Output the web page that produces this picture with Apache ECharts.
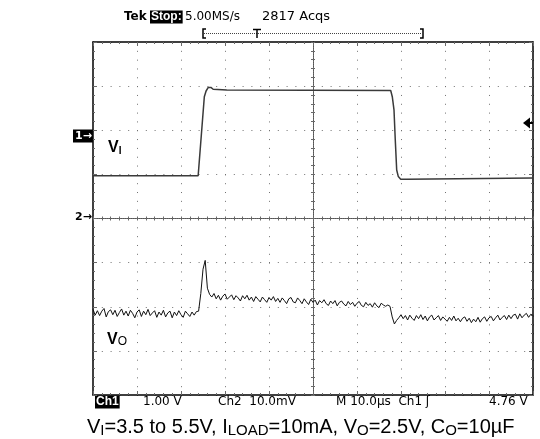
<!DOCTYPE html>
<html><head><meta charset="utf-8">
<script src="https://cdn.jsdelivr.net/npm/echarts@6/dist/echarts.min.js"></script>
<style>html,body{margin:0;padding:0;background:#fff}#c{width:540px;height:439px}</style>
</head><body><div id="c"></div>
<script>
// ---- time axis: 10 µs/div, 10 divisions (centre = 0)
const timeMinUs = -50, timeMaxUs = 50, timeDivUs = 10;
// ---- Ch2 (V_O, AC) : 10 mV/div, 8 divisions around the Ch2 marker
const voMinMv = -40, voMaxMv = 40, voDivMv = 10;
// ---- Ch1 (V_I) : 1 V/div
const viMinV = -1.5, viMaxV = 6.5;

// V_I trace (time µs, volts)
const viTimesUs = [-50, -26.1, -24.7, -24.3, -23.8, -23.2, -22.7, -19.6, 17.66, 18.02, 18.41, 18.7, 19.02, 19.39, 19.93, 21.3, 21.66, 50];
const viVolts   = [3.47, 3.47, 5.26, 5.39, 5.47, 5.47, 5.43, 5.41, 5.40, 5.26, 4.96, 4.28, 3.60, 3.45, 3.39, 3.39, 3.42, 3.42];

// V_O trace (mV, sampled every 0.5 µs from -50 µs)
const voStartUs = -50, voStepUs = 0.5;
const voBefore = [-20.6,-21.9,-20.9,-22.0,-21.0,-20.4,-22.3,-21.1,-20.7,-21.8,
  -20.8,-22.2,-21.3,-20.5,-21.9,-21.0,-22.1,-20.8,-21.5,-22.5,
  -21.2,-20.7,-22.2,-21.0,-21.8,-20.6,-22.0,-21.4,-20.9,-22.4,
  -21.2,-21.9,-20.8,-22.3,-21.4,-21.0,-22.5,-21.2,-22.0,-20.9,
  -21.8,-22.4,-21.0,-21.6,-22.2,-21.2,-21.9,-21.1];
const voSpike = [-21.0,-17.0,-11.5,-9.5,-15.8,-17.2];
const voHigh = [-17.8,-17.0,-18.2,-17.4,-18.5,-17.6,-17.1,-18.3,-17.8,-17.3,
  -18.4,-17.5,-18.0,-18.7,-17.5,-18.2,-17.4,-18.5,-17.8,-18.8,
  -17.7,-18.3,-18.9,-17.8,-18.4,-19.0,-17.9,-18.5,-17.7,-18.8,
  -18.1,-19.0,-18.0,-18.6,-19.3,-18.2,-17.9,-18.9,-19.1,-18.0,
  -18.6,-19.3,-18.2,-18.9,-19.5,-18.3,-19.0,-18.5,-19.6,-18.6,
  -19.1,-18.4,-19.3,-19.7,-18.7,-19.3,-18.6,-19.8,-19.0,-18.7,
  -19.4,-19.8,-18.8,-19.5,-19.0,-19.9,-19.2,-18.8,-19.7,-20.0,
  -19.0,-19.7,-19.3,-20.1,-19.1,-19.8,-20.2,-19.2,-19.6,-19.9,
  -19.6];
const voDip = [-19.9,-22.3,-23.9,-23.1,-22.5];
const voAfter = [-21.8,-22.7,-22.0,-23.0,-21.9,-22.6,-23.1,-22.0,-22.7,-21.8,
  -22.9,-22.1,-23.2,-22.3,-21.9,-23.0,-22.5,-22.0,-23.1,-22.3,
  -22.8,-23.3,-22.4,-23.1,-22.1,-23.2,-22.6,-23.4,-22.6,-22.3,
  -23.3,-22.6,-23.6,-22.8,-23.4,-22.4,-23.5,-22.7,-22.3,-23.3,
  -22.5,-22.2,-23.2,-22.5,-21.9,-23.0,-22.4,-22.0,-22.9,-21.9,
  -22.7,-21.9,-21.7,-22.8,-21.6,-22.5,-21.9,-21.5,-22.4,-21.7,
  -22.0];

const viData = viTimesUs.map((t, i) => [t, viVolts[i]]);
const voValues = [].concat(voBefore, voSpike, voHigh, voDip, voAfter);
const voData = voValues.map((v, i) => [voStartUs + i * voStepUs, v]);

const tickGray = '#6a6a6a';
const dotGray = '#707070';
const tekFont = 'DejaVu Sans';

function xAx(position, extra) {
  return Object.assign({
    type: 'value', min: timeMinUs, max: timeMaxUs, interval: timeDivUs, position: position,
    axisLabel: { show: false },
    splitLine: { show: false },
    axisLine: { show: true, onZero: false, lineStyle: { color: '#000', width: 1.5 } },
    axisTick: { show: true, inside: true, length: 4, lineStyle: { color: tickGray } },
    minorTick: { show: true, splitNumber: 5, length: 2, lineStyle: { color: tickGray } }
  }, extra || {});
}
function yAx(position, extra) {
  return Object.assign({
    type: 'value', min: voMinMv, max: voMaxMv, interval: voDivMv, position: position,
    axisLabel: { show: false },
    splitLine: { show: false },
    axisLine: { show: true, onZero: false, lineStyle: { color: '#000', width: 1.5 } },
    axisTick: { show: true, inside: true, length: 4, lineStyle: { color: tickGray } },
    minorTick: { show: true, splitNumber: 5, length: 2, lineStyle: { color: tickGray } }
  }, extra || {});
}
const centreLine = { show: true, onZero: true, onZeroAxisIndex: 0, lineStyle: { color: '#555', width: 1, type: [1, 1] } };

const chart = echarts.init(document.getElementById('c'), null, { renderer: 'canvas' });
chart.setOption({
  animation: false,
  backgroundColor: '#fff',
  grid: { left: 93, top: 42, width: 440, height: 353, containLabel: false },
  xAxis: [
    xAx('bottom', { splitLine: { show: true, lineStyle: { color: dotGray, width: 1, type: [1, 7.825] } } }),
    xAx('top'),
    xAx('bottom', { axisLine: centreLine, axisTick: { show: true, inside: true, length: 2, lineStyle: { color: tickGray } }, minorTick: { show: true, splitNumber: 5, length: 2, lineStyle: { color: tickGray } } }),
    xAx('bottom', { axisLine: centreLine, axisTick: { show: true, inside: false, length: 2, lineStyle: { color: tickGray } }, minorTick: { show: true, splitNumber: 5, length: 2, lineStyle: { color: tickGray } } })
  ],
  yAxis: [
    yAx('left', { splitLine: { show: true, lineStyle: { color: dotGray, width: 1, type: [1, 7.8] } } }),
    yAx('right'),
    yAx('left', { axisLine: centreLine, axisTick: { show: true, inside: true, length: 2, lineStyle: { color: tickGray } }, minorTick: { show: true, splitNumber: 5, length: 2, lineStyle: { color: tickGray } } }),
    yAx('left', { axisLine: centreLine, axisTick: { show: true, inside: false, length: 2, lineStyle: { color: tickGray } }, minorTick: { show: true, splitNumber: 5, length: 2, lineStyle: { color: tickGray } } }),
    { type: 'value', min: viMinV, max: viMaxV, show: false, splitLine: { show: false } }
  ],
  series: [
    { name: 'V_I', type: 'line', xAxisIndex: 0, yAxisIndex: 4, data: viData, showSymbol: false, symbol: 'none',
      lineStyle: { color: '#3a3a3a', width: 1.5 }, z: 5 },
    { name: 'V_O', type: 'line', xAxisIndex: 0, yAxisIndex: 0, data: voData, showSymbol: false, symbol: 'none',
      lineStyle: { color: '#111', width: 1 }, z: 5 }
  ],
  graphic: [
    // header
    { type: 'text', x: 124, y: 17, style: { text: 'Tek', font: 'bold 12px ' + tekFont, fill: '#000', verticalAlign: 'middle' } },
    { type: 'text', x: 150, y: 17, style: { text: 'Stop:', font: 'bold 12px Liberation Sans', fill: '#fff', backgroundColor: '#000', padding: [1, 1, 0, 1], verticalAlign: 'middle' } },
    { type: 'text', x: 185, y: 17, style: { text: '5.00MS/s', font: '12px ' + tekFont, fill: '#000', verticalAlign: 'middle' } },
    { type: 'text', x: 262, y: 17, style: { text: '2817 Acqs', font: '13px ' + tekFont, fill: '#000', verticalAlign: 'middle' } },
    // record bracket
    { type: 'polyline', shape: { points: [[206, 29], [203, 29], [203, 38], [206, 38]] }, style: { stroke: '#000', lineWidth: 1.5, fill: null } },
    { type: 'polyline', shape: { points: [[420, 29], [423, 29], [423, 38], [420, 38]] }, style: { stroke: '#000', lineWidth: 1.5, fill: null } },
    { type: 'line', shape: { x1: 204, y1: 33.5, x2: 422, y2: 33.5 }, style: { stroke: '#444', lineWidth: 1, lineDash: [1, 1] } },
    { type: 'line', shape: { x1: 253, y1: 29.5, x2: 261, y2: 29.5 }, style: { stroke: '#000', lineWidth: 1.5 } },
    { type: 'line', shape: { x1: 257, y1: 29, x2: 257, y2: 38 }, style: { stroke: '#000', lineWidth: 1.5 } },
    // channel markers
    { type: 'text', x: 73, y: 136, style: { text: '1→', font: 'bold 11px ' + tekFont, fill: '#fff', backgroundColor: '#000', padding: [1, 1, 1, 2], verticalAlign: 'middle' } },
    { type: 'text', x: 75, y: 217, style: { text: '2→', font: 'bold 11px ' + tekFont, fill: '#000', verticalAlign: 'middle' } },
    { type: 'polygon', shape: { points: [[523, 123], [530, 117.5], [530, 128.5]] }, style: { fill: '#000' } },
    { type: 'line', shape: { x1: 529, y1: 123, x2: 533, y2: 123 }, style: { stroke: '#000', lineWidth: 2 } },
    // trace labels
    { type: 'text', x: 108, y: 148, style: { text: 'V{s|I}', font: 'bold 16px Liberation Sans', fill: '#000', verticalAlign: 'middle',
      rich: { s: { fontSize: 10, fontWeight: 'bold', fontFamily: 'Liberation Sans', fill: '#000', lineHeight: 10, verticalAlign: 'bottom' } } } },
    { type: 'text', x: 107, y: 340, style: { text: 'V{s|O}', font: 'bold 16px Liberation Sans', fill: '#000', verticalAlign: 'middle',
      rich: { s: { fontSize: 12, fontFamily: 'Liberation Sans', fill: '#000', lineHeight: 11, verticalAlign: 'bottom' } } } },
    // status line
    { type: 'text', x: 95, y: 402, style: { text: 'Ch1', font: 'bold 12px Liberation Sans', fill: '#fff', backgroundColor: '#000', padding: [1, 1, 0, 1], verticalAlign: 'middle' } },
    { type: 'text', x: 143, y: 402, style: { text: '1.00 V', font: '12px ' + tekFont, fill: '#000', verticalAlign: 'middle' } },
    { type: 'text', x: 218, y: 402, style: { text: 'Ch2  10.0mV', font: '12px ' + tekFont, fill: '#000', verticalAlign: 'middle' } },
    { type: 'text', x: 336, y: 402, style: { text: 'M 10.0µs  Ch1 ʃ', font: '12px ' + tekFont, fill: '#000', verticalAlign: 'middle' } },
    { type: 'text', x: 489, y: 402, style: { text: '4.76 V', font: '12px ' + tekFont, fill: '#000', verticalAlign: 'middle' } },
    // caption
    { type: 'text', x: 87, y: 427, style: {
      text: 'V{s|I}=3.5 to 5.5V, I{s|LOAD}=10mA, V{s|O}=2.5V, C{s|O}=10µF',
      font: '20px Liberation Sans', fill: '#000', verticalAlign: 'middle', lineHeight: 23,
      rich: { s: { fontSize: 15, fontFamily: 'Liberation Sans', fill: '#000', lineHeight: 15, verticalAlign: 'bottom' } } } }
  ]
});
</script></body></html>
